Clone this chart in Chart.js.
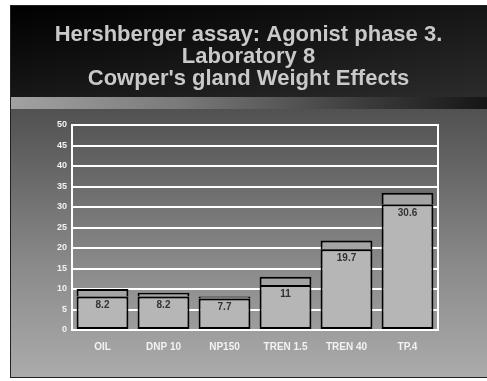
<!DOCTYPE html>
<html>
<head>
<meta charset="utf-8">
<script src="https://cdn.jsdelivr.net/npm/chart.js@4"></script>
<style>
    body { margin: 0; background: #fff; }
    #wrap { position: relative; width: 487px; height: 381px; overflow: hidden; }
    #slide {
        position: absolute; left: 10px; top: 5px; width: 480px; height: 373px;
        border: 1px solid #222; box-sizing: border-box;
        background: linear-gradient(180deg, #313131 0%, #5a5a5a 35%, #8a8a8a 70%, #ababab 100%);
    }
    #head {
        position: absolute; left: 0; top: 0; right: 0; height: 91px;
        background: linear-gradient(170deg, #000 0%, #161616 50%, #2c2c2c 100%);
    }
    #stripe {
        position: absolute; left: 0; top: 91px; right: 0; height: 12px;
        background: linear-gradient(90deg, #a2a2a2 0%, #7a7a7a 35%, #3a3a3a 75%, #151515 100%);
    }
    #chart { position: absolute; left: 0; top: 0; }
</style>
</head>
<body>
<div id="wrap">
    <div id="slide"><div id="head"></div><div id="stripe"></div></div>
    <canvas id="chart" width="487" height="381"></canvas>
</div>
<script>
const titleLines = ['Hershberger assay: Agonist phase 3.', 'Laboratory 8', "Cowper's gland Weight Effects"];
const categories = ['OIL', 'DNP 10', 'NP150', 'TREN 1.5', 'TREN 40', 'TP.4'];
const means = [8.2, 8.2, 7.7, 11, 19.7, 30.6];
const sds = [1.8, 0.9, 0.5, 2.0, 2.1, 2.9];
const yTicks = [0, 5, 10, 15, 20, 25, 30, 35, 40, 45, 50];

// mean values written just under the top of each lower bar
const meanLabels = {
    id: 'meanLabels',
    afterDatasetsDraw(chart) {
        const ctx = chart.ctx;
        const meta = chart.getDatasetMeta(0);
        ctx.save();
        ctx.font = 'bold 10px "Liberation Sans", Arial, sans-serif';
        ctx.fillStyle = '#333';
        ctx.textAlign = 'center';
        ctx.textBaseline = 'middle';
        meta.data.forEach(function (bar, i) {
            ctx.fillText(String(means[i]), bar.x, bar.y + 9);
        });
        ctx.restore();
    },
};

new Chart(document.getElementById('chart'), {
    type: 'bar',
    data: {
        labels: categories,
        datasets: [
            {
                label: 'Mean',
                data: means,
                backgroundColor: '#b6b6b6',
                borderColor: '#000',
                borderWidth: 2,
                borderSkipped: false,
                barPercentage: 0.85,
                categoryPercentage: 1,
            },
            {
                label: 'SD',
                data: sds,
                backgroundColor: '#a4a4a4',
                borderColor: '#000',
                borderWidth: { top: 2, left: 2, right: 2, bottom: 0 },
                borderSkipped: false,
                barPercentage: 0.85,
                categoryPercentage: 1,
            },
        ],
    },
    options: {
        responsive: false,
        animation: false,
        layout: {
            padding: { left: 10, right: 0, top: 5, bottom: 0 },
        },
        plugins: {
            legend: { display: false },
            tooltip: { enabled: false },
            title: {
                display: true,
                text: titleLines,
                color: '#c9c9c9',
                font: { family: '"Liberation Sans", Arial, sans-serif', size: 22, weight: 'bold', lineHeight: 1.0 },
                padding: { top: 19, bottom: 35 },
            },
        },
        scales: {
            x: {
                stacked: true,
                grid: { display: false },
                border: { display: true, color: '#fff', width: 2 },
                ticks: {
                    color: '#f2f2f2',
                    font: { family: '"Liberation Sans", Arial, sans-serif', size: 10, weight: 'bold' },
                    padding: 3,
                },
                afterFit: function (scale) {
                    scale.height = 51;
                },
            },
            y: {
                stacked: true,
                min: 0,
                max: 50,
                grid: { color: '#fff', lineWidth: 2, drawTicks: false },
                border: { display: true, color: '#fff', width: 2 },
                afterBuildTicks: function (scale) {
                    scale.ticks = yTicks.map(function (v) { return { value: v }; });
                },
                ticks: {
                    color: '#f2f2f2',
                    font: { family: '"Liberation Sans", Arial, sans-serif', size: 9, weight: 'bold' },
                    padding: 5,
                },
                afterFit: function (scale) {
                    scale.width = 62;
                },
            },
            y2: {
                position: 'right',
                min: 0,
                max: 50,
                grid: { display: false },
                border: { display: true, color: '#fff', width: 2 },
                ticks: { display: false },
                afterFit: function (scale) {
                    scale.width = 49;
                },
            },
        },
    },
    plugins: [meanLabels],
});
</script>
</body>
</html>
